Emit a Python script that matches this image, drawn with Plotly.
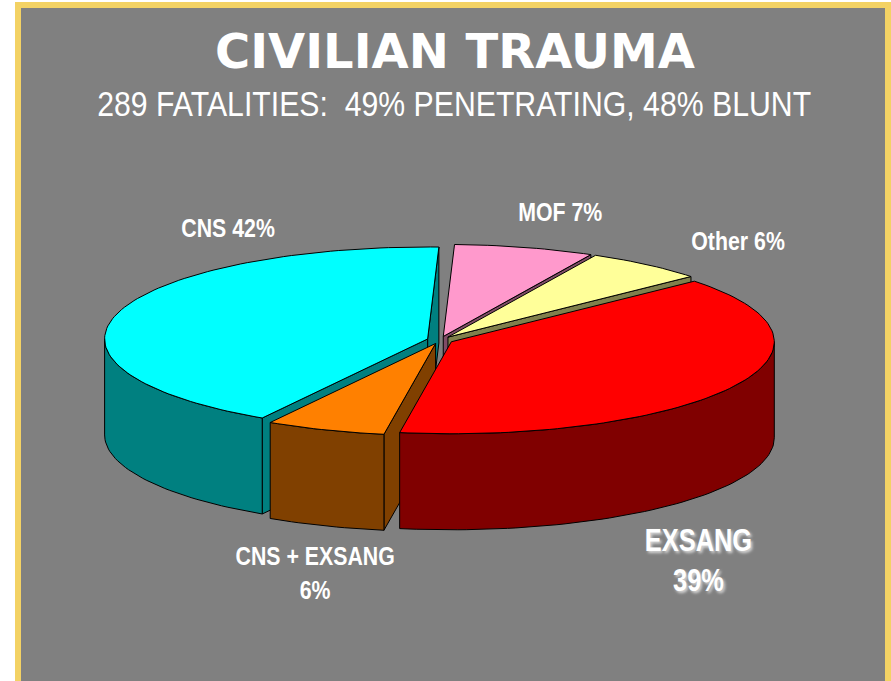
import math
import plotly.graph_objects as go

# ---- data ----
categories = ["CNS", "CNS + EXSANG", "EXSANG", "Other", "MOF"]
values = [42, 6, 39, 6, 7]
label_texts = ["CNS 42%", "CNS + EXSANG<br>6%", "EXSANG<br>39%", "Other 6%", "MOF 7%"]
title_text = "CIVILIAN TRAUMA"
subtitle_text = "289 FATALITIES:  49% PENETRATING, 48% BLUNT"

# ---- styles / layout ----
top_colors = ["#00FFFF", "#FF8000", "#FF0000", "#FFFF99", "#FF99CC"]
side_colors = ["#008080", "#804000", "#800000", "#80804C", "#804C66"]
label_pos = [(228, 228), (315, 573), (698, 560), (738, 241), (560, 212)]
label_size = [26, 26, 31, 26, 26]

W, H = 891, 681
CX, CY = 440, 340
RX, RY = 323, 92
DEPTH = 96
EXPLODE = 0.04
START = 88.0  # degrees, slices run counter-clockwise

fig = go.Figure()

def pt(theta_deg, ox, oy, h=0.0):
    t = math.radians(theta_deg)
    return CX + ox + RX * math.cos(t), CY + oy - RY * math.sin(t) + h

def arc(t0, t1, ox, oy, h=0.0):
    n = max(2, int(abs(t1 - t0) / 1.5) + 2)
    return [pt(t0 + (t1 - t0) * i / (n - 1), ox, oy, h) for i in range(n)]

total = float(sum(values))
faces = []
tops = []
cum = 0.0
for i, v in enumerate(values):
    t0 = START + cum / total * 360.0
    t1 = START + (cum + v) / total * 360.0
    cum += v
    mid = math.radians((t0 + t1) / 2)
    ox = EXPLODE * RX * math.cos(mid)
    oy = -EXPLODE * RY * math.sin(mid)
    cx, cy = CX + ox, CY + oy
    # radial faces that face the viewer
    for ta, normal in ((t0, t0 - 90), (t1, t1 + 90)):
        if math.sin(math.radians(normal)) < 0:
            ex, ey = pt(ta, ox, oy)
            poly = [(cx, cy), (ex, ey), (ex, ey + DEPTH), (cx, cy + DEPTH)]
            key = (cy + ey) / 2
            faces.append((key, poly, side_colors[i]))
    # outer wall (front half only)
    for base in (0.0, 360.0):
        a0 = max(t0, 180.0 + base)
        a1 = min(t1, 360.0 + base)
        if a1 > a0:
            topa = arc(a0, a1, ox, oy)
            bota = arc(a1, a0, ox, oy, DEPTH)
            key = sum(p[1] for p in topa) / len(topa)
            faces.append((key, topa + bota, side_colors[i]))
    tops.append(([(cx, cy)] + arc(t0, t1, ox, oy), top_colors[i]))

def add_poly(poly, color):
    xs = [p[0] for p in poly] + [poly[0][0]]
    ys = [p[1] for p in poly] + [poly[0][1]]
    fig.add_trace(go.Scatter(x=xs, y=ys, mode="lines", fill="toself",
                             fillcolor=color, line=dict(color="black", width=1),
                             hoverinfo="skip", showlegend=False))

for key, poly, color in sorted(faces, key=lambda f: f[0]):
    add_poly(poly, color)
for poly, color in tops:
    add_poly(poly, color)

annotations = [
    dict(x=455, y=51, text=title_text, showarrow=False,
         font=dict(family="DejaVu Sans", size=48, color="white", weight="bold")),
    dict(x=454, y=103, text=subtitle_text, showarrow=False,
         font=dict(family="Liberation Sans", size=36, color="white")),
]
for i, txt in enumerate(label_texts):
    f = dict(family="Liberation Sans", size=label_size[i], color="white", weight="bold")
    if categories[i] == "EXSANG":
        f["shadow"] = "2px 2px 3px rgba(225,225,225,0.9)"
    annotations.append(dict(x=label_pos[i][0], y=label_pos[i][1], text=txt, showarrow=False,
                            font=f, align="center"))

fig.update_layout(
    width=W, height=H,
    margin=dict(l=0, r=0, t=0, b=0),
    paper_bgcolor="white", plot_bgcolor="white",
    xaxis=dict(range=[0, W], visible=False, fixedrange=True),
    yaxis=dict(range=[H, 0], visible=False, fixedrange=True),
    shapes=[dict(type="rect", xref="x", yref="y", x0=18, x1=888, y0=5, y1=H + 20,
                 line=dict(color="#F3D264", width=6), fillcolor="#808080", layer="below")],
    annotations=annotations,
    showlegend=False,
)

# remove page margin and narrow the Arial-style labels (Arial Narrow look)
post = """
document.body.style.margin = '0';
document.body.style.overflow = 'hidden';
var gd = document.getElementById('{plot_id}');
gd.querySelectorAll('g.annotation').forEach(function(g) {
  var idx = parseInt(g.getAttribute('data-index'));
  if (idx === 0) return;
  var sx = (idx === 1) ? 0.84 : 0.82;
  g.querySelectorAll('text.annotation-text').forEach(function(t) {
    t.style.transformBox = 'fill-box';
    t.style.transformOrigin = 'center';
    t.style.transform = 'scaleX(' + sx + ')';
  });
});
"""

fig.write_html("out.html", post_script=post, config={"displayModeBar": False})
